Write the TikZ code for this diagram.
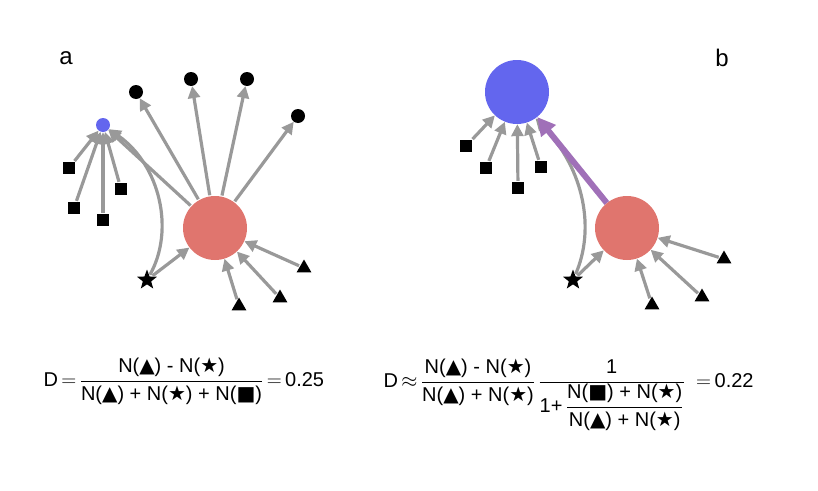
\documentclass[tikz,border=0pt]{standalone}
\usepackage{fontspec}
\setmainfont{Liberation Sans}
\newfontfamily\symf{DejaVu Sans}
\usetikzlibrary{shapes.geometric,arrows.meta}
\definecolor{redn}{HTML}{E0756E}
\definecolor{bluen}{HTML}{6366EE}
\definecolor{purp}{HTML}{A070B8}
\definecolor{edg}{HTML}{999999}
\newcommand{\Tri}{{\symf\char"25B2}}
\newcommand{\Sta}{{\symf\char"2605}}
\newcommand{\Squ}{{\symf\char"25A0}}
\newcommand{\tx}[1]{\mbox{#1}}
\newcommand{\dfr}[2]{{\displaystyle\frac{#1}{#2}}}
\begin{document}
\begin{tikzpicture}[x=1pt,y=-1pt,
  dot/.style={circle,fill=black,inner sep=0,minimum size=14pt},
  sq/.style={rectangle,fill=black,inner sep=0,minimum size=12pt},
  tri/.style={regular polygon,regular polygon sides=3,fill=black,inner sep=0,minimum size=17pt},
  st/.style={star,star points=5,star point ratio=2.4,fill=black,inner sep=0,minimum size=21pt},
  big/.style={circle,inner sep=0,minimum size=64pt},
  ar/.style={draw=edg,line width=3.2pt,-{Triangle[length=12pt,width=12pt]},fill=none,shorten <=1pt},
  pa/.style={draw=purp,line width=6pt,-{Triangle[length=18pt,width=18pt]}},
  lab/.style={font=\fontsize{24}{28}\selectfont},
  eq/.style={font=\fontsize{20}{24}\selectfont}]
\useasboundingbox (0,0) rectangle (818,490);
% panel a
\node[lab] (la) at (66,58) {a};
\node[circle,fill=bluen,inner sep=0,minimum size=14pt] (ba) at (103,125) {};
\node[big,fill=redn] (ra) at (215,228) {};
\node[dot] (c1) at (136,92) {};
\node[dot] (c2) at (191,79) {};
\node[dot] (c3) at (247,79) {};
\node[dot] (c4) at (298,116) {};
\node[sq] (s1) at (69,168) {};
\node[sq] (s2) at (74,208) {};
\node[sq] (s3) at (103,220) {};
\node[sq] (s4) at (121,189) {};
\node[st] (sta) at (147,280) {};
\node[tri] (t1) at (304,268) {};
\node[tri] (t2) at (280,298) {};
\node[tri] (t3) at (239,306) {};
\foreach \c in {c1,c2,c3,c4} \draw[ar] (ra) -- (\c);
\foreach \s in {s1,s2,s3,s4} \draw[ar] (\s) -- (ba);
\draw[ar] (ra) -- (ba);
\draw[ar] (sta) .. controls (175,230) and (160,165) .. (ba);
\draw[ar] (sta) -- (ra);
\foreach \t in {t1,t2,t3} \draw[ar] (\t) -- (ra);
% panel b
\node[lab] (lb) at (722,58) {b};
\node[big,fill=bluen] (bb) at (517,92) {};
\node[big,fill=redn] (rb) at (627,228) {};
\node[sq] (q1) at (466,146) {};
\node[sq] (q2) at (486,168) {};
\node[sq] (q3) at (518,188) {};
\node[sq] (q4) at (541,167) {};
\node[st] (stb) at (573,280) {};
\node[tri] (u1) at (724,259) {};
\node[tri] (u2) at (702,297) {};
\node[tri] (u3) at (652,305) {};
\foreach \s in {q1,q2,q3,q4} \draw[ar] (\s) -- (bb);
\draw[ar] (stb) .. controls (595,230) and (585,170) .. (bb.-55);
\draw[ar] (stb) -- (rb);
\foreach \t in {u1,u2,u3} \draw[ar] (\t) -- (rb);
\draw[pa] (rb) -- (bb);
% equations
\node[eq,anchor=west] (ea) at (40,381) {$\tx{D}\,{=}\,\dfr{\tx{N(\Tri) - N(\Sta)}}{\tx{N(\Tri) + N(\Sta) + N(\Squ)}}\,{=}\,\tx{0.25}$};
\node[eq,anchor=west] (eb) at (380,395) {$\tx{D}\,{\approx}\,\dfr{\tx{N(\Tri) - N(\Sta)}}{\tx{N(\Tri) + N(\Sta)}}\,\dfr{\tx{1}}{\tx{1+}\,\dfr{\tx{N(\Squ) + N(\Sta)}}{\tx{N(\Tri) + N(\Sta)}}}\;\;{=}\,\tx{0.22}$};
\end{tikzpicture}
\end{document}
